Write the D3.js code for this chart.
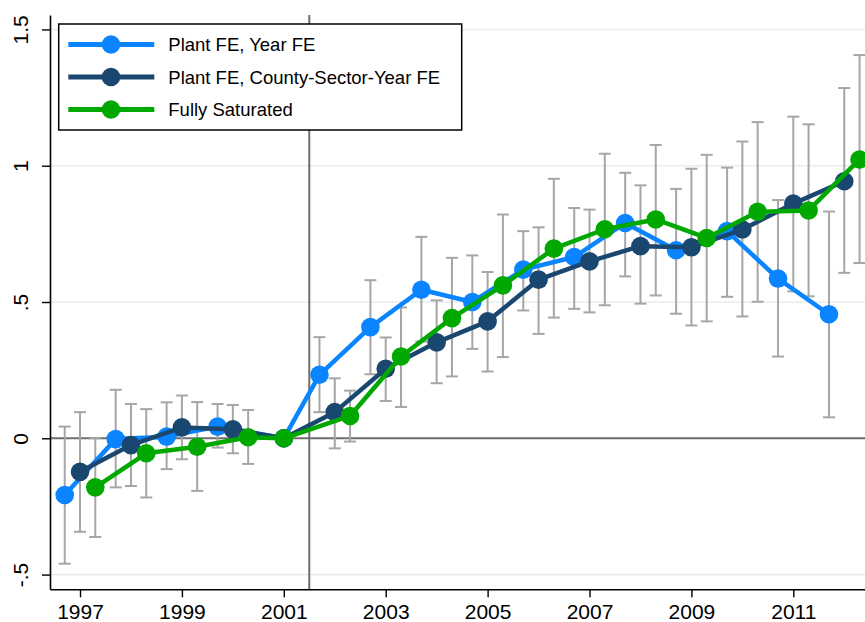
<!DOCTYPE html>
<html>
<head>
<meta charset="utf-8">
<script src="https://cdn.jsdelivr.net/npm/d3@7"></script>
<style>
  html, body { margin: 0; padding: 0; background: #fff; }
  svg { display: block; font-family: "Liberation Sans", Arial, Helvetica, sans-serif; }
</style>
</head>
<body>
<svg id="chart" width="865" height="622"></svg>
<script>
// ---- data ----
const years = [1997, 1998, 1999, 2000, 2001, 2002, 2003, 2004, 2005, 2006, 2007, 2008, 2009, 2010, 2011, 2012];
const baseYear = 2001;

const seriesNames = ["Plant FE, Year FE", "Plant FE, County-Sector-Year FE", "Fully Saturated"];

const plantYearEst = [-0.208, -0.003, 0.006, 0.043, 0, 0.233, 0.408, 0.545, 0.500, 0.619, 0.665, 0.790, 0.690, 0.760, 0.586, 0.455];
const plantYearLo  = [-0.460, -0.180, -0.113, -0.034, null, 0.096, 0.235, 0.355, 0.328, 0.469, 0.475, 0.594, 0.457, 0.519, 0.300, 0.077];
const plantYearHi  = [0.043, 0.178, 0.132, 0.126, null, 0.371, 0.580, 0.739, 0.671, 0.760, 0.845, 0.974, 0.915, 0.993, 0.874, 0.832];

const countyEst = [-0.123, -0.025, 0.040, 0.033, 0, 0.096, 0.255, 0.352, 0.429, 0.582, 0.649, 0.705, 0.701, 0.766, 0.861, 0.943];
const countyLo  = [-0.343, -0.175, -0.077, -0.055, null, -0.037, 0.137, 0.202, 0.245, 0.383, 0.462, 0.494, 0.414, 0.447, 0.539, 0.607];
const countyHi  = [0.096, 0.126, 0.157, 0.122, null, 0.220, 0.370, 0.506, 0.610, 0.774, 0.839, 0.928, 0.989, 1.089, 1.180, 1.285];

const saturatedEst = [-0.180, -0.055, -0.031, 0.004, 0, 0.082, 0.300, 0.441, 0.561, 0.696, 0.767, 0.803, 0.735, 0.831, 0.836, 1.023];
const saturatedLo  = [-0.362, -0.217, -0.193, -0.094, null, -0.012, 0.115, 0.227, 0.298, 0.443, 0.488, 0.524, 0.429, 0.501, 0.521, 0.643];
const saturatedHi  = [0.000, 0.107, 0.133, 0.104, null, 0.175, 0.480, 0.662, 0.821, 0.952, 1.044, 1.076, 1.040, 1.160, 1.152, 1.406];

const yearShift = [-0.3, 0, 0.3];   // horizontal dodge (in years) per series
const xTickValues = [1997, 1999, 2001, 2003, 2005, 2007, 2009, 2011];
const yTickValues = [-0.5, 0, 0.5, 1, 1.5];
const yTickLabels = ["-.5", "0", ".5", "1", "1.5"];
const treatmentLine = 2001.5;

// ---- layout / style ----
const colors = ["#0a84ff", "#1a476f", "#00a800"];
const svg = d3.select("#chart");
const plotL = 50, plotR = 865, plotT = 15, plotB = 589.3;

const x = d3.scaleLinear().domain([1996.411, 2012.407]).range([plotL, plotR]);
const y = d3.scaleLinear().domain([-0.554, 1.553]).range([plotB, plotT]);

const series = [
  { name: seriesNames[0], est: plantYearEst, lo: plantYearLo, hi: plantYearHi },
  { name: seriesNames[1], est: countyEst, lo: countyLo, hi: countyHi },
  { name: seriesNames[2], est: saturatedEst, lo: saturatedLo, hi: saturatedHi }
].map((s, i) => ({
  ...s,
  color: colors[i],
  pts: years.map((yr, j) => ({
    xv: yr === baseYear ? yr : yr + yearShift[i],
    v: s.est[j], lo: s.lo[j], hi: s.hi[j]
  }))
}));

// gridlines
svg.append("g").selectAll("line")
  .data(yTickValues.filter(d => d !== 0))
  .join("line")
  .attr("x1", plotL).attr("x2", plotR)
  .attr("y1", d => y(d)).attr("y2", d => y(d))
  .attr("stroke", "#e6eef1").attr("stroke-width", 1.6);

// zero line and treatment line
svg.append("line")
  .attr("x1", plotL).attr("x2", plotR)
  .attr("y1", y(0)).attr("y2", y(0))
  .attr("stroke", "#6e6e6e").attr("stroke-width", 2);
svg.append("line")
  .attr("x1", x(treatmentLine)).attr("x2", x(treatmentLine))
  .attr("y1", plotT).attr("y2", plotB)
  .attr("stroke", "#6e6e6e").attr("stroke-width", 2);

// error bars
const capW = 6;
const ebG = svg.append("g").attr("stroke", "#a6a6a6").attr("stroke-width", 2).attr("fill", "none");
series.forEach(s => {
  const pts = s.pts.filter(p => p.lo !== null);
  const g = ebG.append("g");
  g.selectAll("line.v").data(pts).join("line").attr("class", "v")
    .attr("x1", p => x(p.xv)).attr("x2", p => x(p.xv))
    .attr("y1", p => y(p.lo)).attr("y2", p => y(p.hi));
  g.selectAll("line.t").data(pts).join("line").attr("class", "t")
    .attr("x1", p => x(p.xv) - capW).attr("x2", p => x(p.xv) + capW)
    .attr("y1", p => y(p.hi)).attr("y2", p => y(p.hi));
  g.selectAll("line.b").data(pts).join("line").attr("class", "b")
    .attr("x1", p => x(p.xv) - capW).attr("x2", p => x(p.xv) + capW)
    .attr("y1", p => y(p.lo)).attr("y2", p => y(p.lo));
});

// lines and markers
const line = d3.line().x(p => x(p.xv)).y(p => y(p.v));
series.forEach(s => {
  const g = svg.append("g");
  g.append("path").datum(s.pts)
    .attr("d", line)
    .attr("fill", "none").attr("stroke", s.color)
    .attr("stroke-width", 4.5).attr("stroke-linejoin", "round");
  g.selectAll("circle").data(s.pts).join("circle")
    .attr("cx", p => x(p.xv)).attr("cy", p => y(p.v))
    .attr("r", 9.3).attr("fill", s.color);
});

// axes
const xAxis = d3.axisBottom(x).tickValues(xTickValues).tickFormat(d3.format("d")).tickSize(8).tickSizeOuter(0);
const gx = svg.append("g").attr("transform", `translate(0,${plotB})`).call(xAxis);
gx.select(".domain").attr("stroke", "#000").attr("stroke-width", 1.6);
gx.selectAll(".tick line").attr("stroke", "#000").attr("stroke-width", 1.4);
gx.selectAll(".tick text").attr("y", 30).attr("dy", 0)
  .attr("font-size", 21).attr("fill", "#000")
  .attr("font-family", '"Liberation Sans", Arial, sans-serif');

const yAxis = d3.axisLeft(y).tickValues(yTickValues)
  .tickFormat((d, i) => yTickLabels[i]).tickSize(8).tickSizeOuter(0);
const gy = svg.append("g").attr("transform", `translate(${plotL},0)`).call(yAxis);
gy.select(".domain").attr("stroke", "#000").attr("stroke-width", 1.6);
gy.selectAll(".tick line").attr("stroke", "#000").attr("stroke-width", 1.4);
gy.selectAll(".tick text")
  .attr("x", 0).attr("dy", 0)
  .attr("transform", "translate(-21.7,0) rotate(-90)")
  .attr("text-anchor", "middle")
  .attr("font-size", 21).attr("fill", "#000")
  .attr("font-family", '"Liberation Sans", Arial, sans-serif');

// legend
const lg = svg.append("g");
lg.append("rect")
  .attr("x", 58.7).attr("y", 24).attr("width", 403).attr("height", 106)
  .attr("fill", "#fff").attr("stroke", "#000").attr("stroke-width", 1.5);
const rowY = [44.5, 77, 109.5];
series.forEach((s, i) => {
  lg.append("line")
    .attr("x1", 68.3).attr("x2", 154.3)
    .attr("y1", rowY[i]).attr("y2", rowY[i])
    .attr("stroke", s.color).attr("stroke-width", 5);
  lg.append("circle").attr("cx", 111).attr("cy", rowY[i]).attr("r", 9.3).attr("fill", s.color);
  lg.append("text")
    .attr("x", 168.3).attr("y", rowY[i] + 6.8)
    .attr("font-size", 18.5).attr("fill", "#000")
    .text(s.name);
});
</script>
</body>
</html>
